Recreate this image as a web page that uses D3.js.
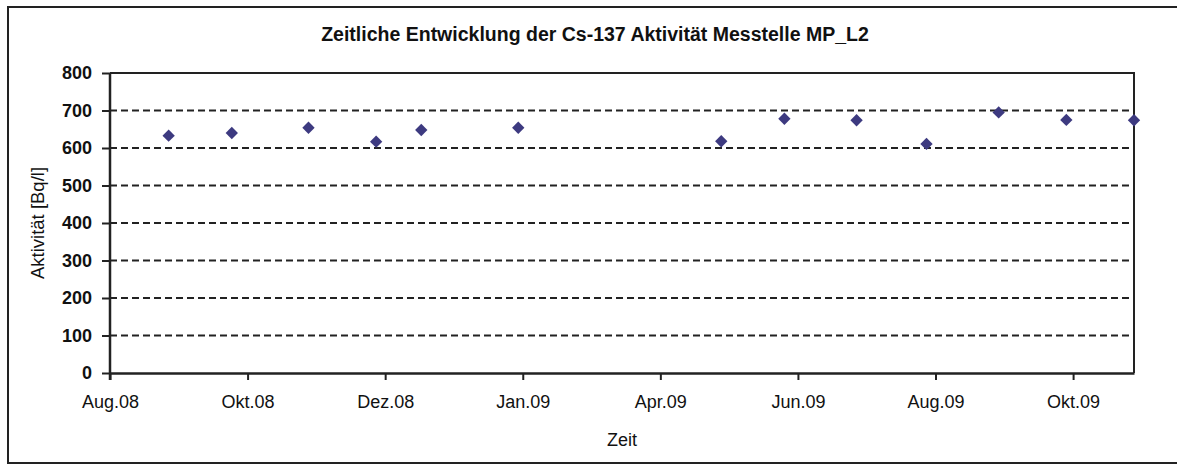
<!DOCTYPE html>
<html>
<head>
<meta charset="utf-8">
<script src="https://cdn.jsdelivr.net/npm/d3@7/dist/d3.min.js"></script>
<style>
  html, body { margin: 0; padding: 0; background: #ffffff; }
  svg { display: block; }
  text { font-family: "Liberation Sans", Arial, Helvetica, sans-serif; fill: #111; }
</style>
</head>
<body>
<svg id="chart" width="1177" height="465"></svg>
<script>
// ---- data ----
const title = "Zeitliche Entwicklung der Cs-137 Aktivität Messtelle MP_L2";
const xTitle = "Zeit";
const yTitle = "Aktivität [Bq/l]";
const sampleDates = ["2008-08-27","2008-09-24","2008-10-28","2008-11-27","2008-12-17","2009-01-29",
                     "2009-04-29","2009-05-27","2009-06-28","2009-07-29","2009-08-30","2009-09-29","2009-10-29"];
const activity = [633, 640, 654, 617, 648, 654, 618, 678, 674, 611, 695, 675, 674];
const yTicks = [0, 100, 200, 300, 400, 500, 600, 700, 800];
const xAxisStart = "2008-08-01";
const xAxisEnd = "2009-10-29";
const xTickStepDays = 61;
const xTickCount = 8;
const germanMonths = ["Jan","Feb","Mär","Apr","Mai","Jun","Jul","Aug","Sep","Okt","Nov","Dez"];

// ---- setup ----
const parse = d3.timeParse("%Y-%m-%d");
const locale = d3.timeFormatLocale({
  dateTime: "%A, der %e. %B %Y, %X", date: "%d.%m.%Y", time: "%H:%M:%S",
  periods: ["AM","PM"],
  days: ["Sonntag","Montag","Dienstag","Mittwoch","Donnerstag","Freitag","Samstag"],
  shortDays: ["So","Mo","Di","Mi","Do","Fr","Sa"],
  months: ["Januar","Februar","März","April","Mai","Juni","Juli","August","September","Oktober","November","Dezember"],
  shortMonths: germanMonths
});
const fmt = locale.format("%b.%y");

const data = sampleDates.map((d, i) => ({ date: parse(d), value: activity[i] }));
const start = parse(xAxisStart), end = parse(xAxisEnd);
const xTickValues = d3.range(xTickCount).map(k => d3.timeDay.offset(start, k * xTickStepDays));

const svg = d3.select("#chart");
const m = { left: 110, right: 1134, top: 73, bottom: 373 };

// outer frame (right edge lies beyond the picture)
svg.append("rect")
  .attr("x", 8).attr("y", 7).attr("width", 1200).attr("height", 456)
  .attr("fill", "#fff").attr("stroke", "#222").attr("stroke-width", 2);

const x = d3.scaleTime().domain([start, end]).range([m.left, m.right]);
const y = d3.scaleLinear().domain([0, 800]).range([m.bottom, m.top]);

// gridlines
svg.append("g")
  .selectAll("line")
  .data(yTicks.filter(t => t > 0 && t < 800))
  .join("line")
  .attr("x1", m.left).attr("x2", m.right)
  .attr("y1", d => y(d)).attr("y2", d => y(d))
  .attr("stroke", "#222").attr("stroke-width", 2)
  .attr("stroke-dasharray", "7,4");

// plot frame top/right
svg.append("path")
  .attr("d", `M${m.left},${m.top}H${m.right}V${m.bottom}`)
  .attr("fill", "none").attr("stroke", "#222").attr("stroke-width", 2);

// y axis
const yAxis = svg.append("g")
  .attr("transform", `translate(${m.left},0)`)
  .call(d3.axisLeft(y).tickValues(yTicks).tickSize(8).tickPadding(10).tickSizeOuter(0));
yAxis.select(".domain").attr("stroke", "#222").attr("stroke-width", 2.5)
  .attr("d", `M0,${m.top}V${m.bottom + 7}`);
yAxis.selectAll(".tick line").attr("stroke", "#222").attr("stroke-width", 2);
yAxis.selectAll(".tick text")
  .style("font-size", "18px").style("font-weight", "bold").attr("fill", "#111");

// x axis
const xAxis = svg.append("g")
  .attr("transform", `translate(0,${m.bottom})`)
  .call(d3.axisBottom(x).tickValues(xTickValues).tickFormat(fmt).tickSize(7).tickPadding(15).tickSizeOuter(0));
xAxis.select(".domain").attr("stroke", "#222").attr("stroke-width", 2.5);
xAxis.selectAll(".tick line").attr("stroke", "#222").attr("stroke-width", 2);
xAxis.selectAll(".tick text")
  .style("font-size", "18px").attr("fill", "#111");

// markers
svg.append("g")
  .selectAll("path")
  .data(data)
  .join("path")
  .attr("d", d3.symbol(d3.symbolSquare, 76))
  .attr("transform", d => `translate(${x(d.date)},${y(d.value)}) rotate(45)`)
  .attr("fill", "#3d3a80");

// titles
svg.append("text")
  .attr("x", 595).attr("y", 41)
  .attr("text-anchor", "middle")
  .style("font-size", "19.5px").style("font-weight", "bold")
  .text(title);

svg.append("text")
  .attr("x", (m.left + m.right) / 2).attr("y", 446)
  .attr("text-anchor", "middle")
  .style("font-size", "18px")
  .text(xTitle);

svg.append("text")
  .attr("transform", `translate(44,${(m.top + m.bottom) / 2}) rotate(-90)`)
  .attr("text-anchor", "middle")
  .style("font-size", "18.5px")
  .text(yTitle);
</script>
</body>
</html>
